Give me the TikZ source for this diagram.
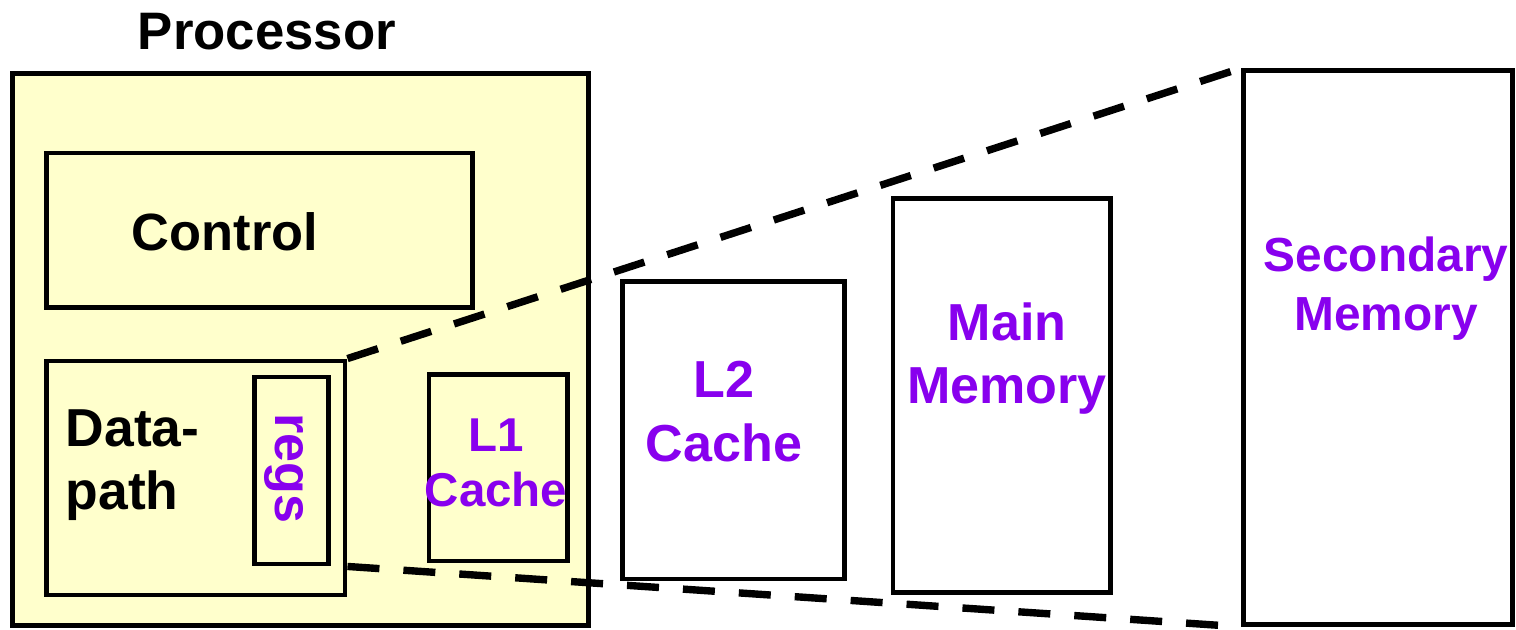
\documentclass[tikz,border=0pt]{standalone}
\usepackage{fontspec}
\setmainfont{Liberation Sans}
\usepackage{xcolor}
\usepackage{tikz}
\usetikzlibrary{positioning}
\definecolor{procyellow}{HTML}{FFFFCC}
\definecolor{levelpurple}{HTML}{8800EE}
\tikzset{
  unitbox/.style={draw=black,line width=1.35pt,inner sep=0pt,fill=white},
  cpubox/.style={unitbox,fill=procyellow},
  cputext/.style={inner sep=0pt,font=\bfseries\fontsize{15.2}{17.9}\selectfont,text=black},
  leveltext/.style={inner sep=0pt,font=\bfseries\fontsize{14.8}{18.2}\selectfont,text=levelpurple,align=center},
  zoomline/.style={line width=2.1pt,dash pattern=on 0.32cm off 0.24cm},
}

\begin{document}
\begin{tikzpicture}[x=0.01cm,y=-0.01cm]
  \useasboundingbox (0,0) rectangle (1516,629);
  % processor and its parts
  \node[cpubox,minimum width=5.755cm,minimum height=5.52cm] (proc) at (300.25,349.5) {};
  \node[cputext,anchor=base,font=\bfseries\fontsize{15}{18}\selectfont] (proctitle) at (267,49) {Processor};
  \node[cpubox,minimum width=4.26cm,minimum height=1.545cm] (ctrl) at (259.5,230.25) {};
  \node[cputext,anchor=base,font=\bfseries\fontsize{14.9}{18}\selectfont] (ctrltext) at (225,250) {Control};
  \node[cpubox,minimum width=2.985cm,minimum height=2.34cm] (dpath) at (195.75,478) {};
  \node[cputext,anchor=north west,align=left] (dpathtext) at (65,409) {Data-\\path};
  \node[cpubox,minimum width=0.74cm,minimum height=1.87cm] (regs) at (291.5,470.5) {};
  \node[leveltext,rotate=-90] (regstext) at (284,468) {regs};
  \node[cpubox,minimum width=1.385cm,minimum height=1.865cm] (lone) at (498.25,467.75) {};
  \node[leveltext,anchor=north,font=\bfseries\fontsize{13.5}{15.6}\selectfont] (lonetext) at (496,418) {L1\\Cache};
  % levels outside the processor
  \node[unitbox,minimum width=2.22cm,minimum height=2.975cm] (ltwo) at (733.5,430.25) {};
  \node[leveltext,anchor=north] (ltwotext) at (724,360) {L2\\Cache};
  \node[unitbox,minimum width=2.175cm,minimum height=3.94cm] (mainmem) at (1001.75,395.5) {};
  \node[leveltext,anchor=north,font=\bfseries\fontsize{14.8}{17.9}\selectfont] (maintext) at (1007,302) {Main\\Memory};
  \node[unitbox,minimum width=2.69cm,minimum height=5.535cm] (secmem) at (1377.9,347.5) {};
  \node[leveltext,anchor=north,font=\bfseries\fontsize{13.6}{16.8}\selectfont] (sectext) at (1386,236) {Secondary\\Memory};
  % zoom lines from the registers out to secondary memory
  \coordinate (ztop) at (dpath.north east);
  \coordinate (zbot) at (dpath.east |- regs.south);
  \draw[zoomline,shorten >=0.1cm] (ztop) -- (secmem.north west);
  \draw[zoomline,shorten >=0.1cm] (zbot) -- (secmem.south west);
\end{tikzpicture}
\end{document}
